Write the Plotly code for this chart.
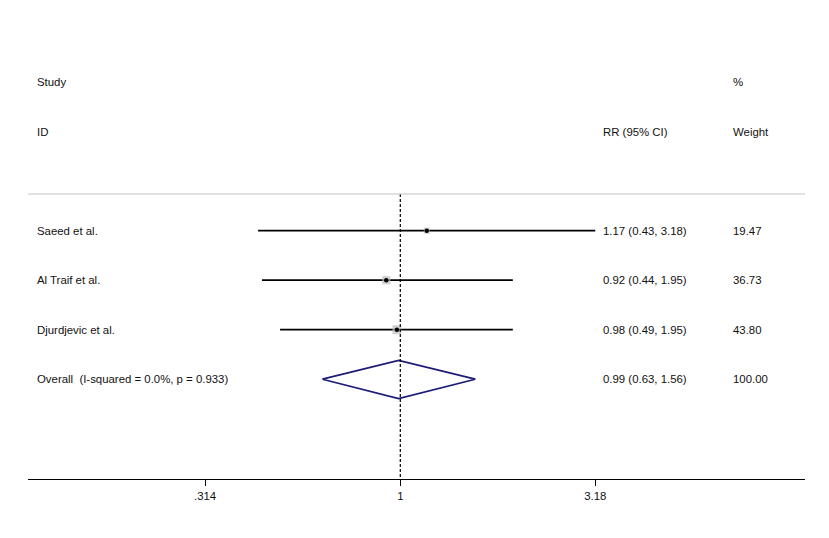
import plotly.graph_objects as go

studies = ["Saeed et al.", "Al Traif et al.", "Djurdjevic et al."]
rr = [1.17, 0.92, 0.98]
ci_low = [0.43, 0.44, 0.49]
ci_high = [3.18, 1.95, 1.95]
weights = [19.47, 36.73, 43.80]
overall_label = "Overall  (I-squared = 0.0%, p = 0.933)"
overall_rr = 0.99
overall_low = 0.63
overall_high = 1.56
overall_weight = 100.00
tick_vals = [0.314, 1, 3.18]
tick_text = [".314", "1", "3.18"]

rows = [1, 2, 3]
overall_row = 4

FONT = "Liberation Sans, Arial, sans-serif"
OFF = 8  # page body margin
REF_L, REF_R = 28, 805
REF_BOTTOM = 479
W, H = 829 - OFF, 538 - OFF
L = REF_L - OFF
R = W - (REF_R - OFF)
B = H - (REF_BOTTOM - OFF)

ROW1_PX, ROW_STEP = 230.7, 49.5


def px2row(py):
    return 1 + (py - ROW1_PX) / ROW_STEP


def px2paper(px):
    return (px - REF_L) / (REF_R - REF_L)


fig = go.Figure()

# CI lines
xs, ys = [], []
for r, lo, hi in zip(rows, ci_low, ci_high):
    xs += [lo, hi, None]
    ys += [r, r, None]
fig.add_trace(go.Scatter(x=xs, y=ys, mode="lines",
                         line=dict(color="black", width=1.8),
                         hoverinfo="skip", showlegend=False))

# weight squares
fig.add_trace(go.Scatter(x=rr, y=rows, mode="markers",
                         marker=dict(symbol="square", color="#bdbdbd",
                                     size=[1.35 * w ** 0.5 for w in weights],
                                     line=dict(width=0)),
                         showlegend=False))
# point estimate dots
fig.add_trace(go.Scatter(x=rr, y=rows, mode="markers",
                         marker=dict(symbol="circle", color="black", size=4.5),
                         showlegend=False))

# overall diamond
fig.add_trace(go.Scatter(
    x=[overall_low, overall_rr, overall_high, overall_rr, overall_low],
    y=[overall_row, overall_row - 0.38, overall_row, overall_row + 0.39, overall_row],
    mode="lines", line=dict(color="#1c1c78", width=1.7),
    hoverinfo="skip", showlegend=False))

sep_row = px2row(194)
bottom_row = px2row(REF_BOTTOM)
top_row = px2row(OFF)

# null line (dashed)
fig.add_shape(type="line", xref="x", yref="y", x0=1, x1=1, y0=sep_row, y1=bottom_row,
              line=dict(color="black", width=1.2, dash="3px,2px"))

# header separator
fig.add_shape(type="line", xref="paper", yref="y", x0=0, x1=1, y0=sep_row, y1=sep_row,
              line=dict(color="#c4c4c4", width=1))

# faint right frame line
fig.add_shape(type="line", xref="paper", yref="y",
              x0=px2paper(824), x1=px2paper(824), y0=top_row, y1=px2row(538),
              line=dict(color="#ececec", width=1))

x_study = px2paper(35)
x_rr = px2paper(601)
x_wt = px2paper(731)


def txt(x, y, s):
    fig.add_annotation(x=x, y=y, xref="paper", yref="y", text=s, showarrow=False,
                       xanchor="left", yanchor="middle",
                       font=dict(family=FONT, size=11.4, color="#111111"))


txt(x_study, px2row(82), "Study")
txt(x_study, px2row(131.7), "ID")
txt(x_wt, px2row(82), "%")
txt(x_rr, px2row(131.7), "RR (95% CI)")
txt(x_wt, px2row(131.7), "Weight")

for r, s, e, lo, hi, w in zip(rows, studies, rr, ci_low, ci_high, weights):
    txt(x_study, r, s)
    txt(x_rr, r, f"{e:.2f} ({lo:.2f}, {hi:.2f})")
    txt(x_wt, r, f"{w:.2f}")

txt(x_study, overall_row, overall_label)
txt(x_rr, overall_row, f"{overall_rr:.2f} ({overall_low:.2f}, {overall_high:.2f})")
txt(x_wt, overall_row, f"{overall_weight:.2f}")

fig.update_layout(
    width=W, height=H,
    margin=dict(l=L, r=R, t=0, b=B, pad=0),
    paper_bgcolor="white", plot_bgcolor="white",
    showlegend=False,
    xaxis=dict(type="log", range=[-0.9595, 1.043],
               tickvals=tick_vals, ticktext=tick_text,
               showgrid=False, zeroline=False,
               showline=True, linecolor="black", linewidth=1,
               ticks="outside", ticklen=6, tickcolor="black", tickwidth=1,
               tickfont=dict(family=FONT, size=11.4, color="#111111")),
    yaxis=dict(range=[bottom_row, top_row], visible=False, showgrid=False,
               zeroline=False, fixedrange=True),
)

fig.write_html("out.html")
